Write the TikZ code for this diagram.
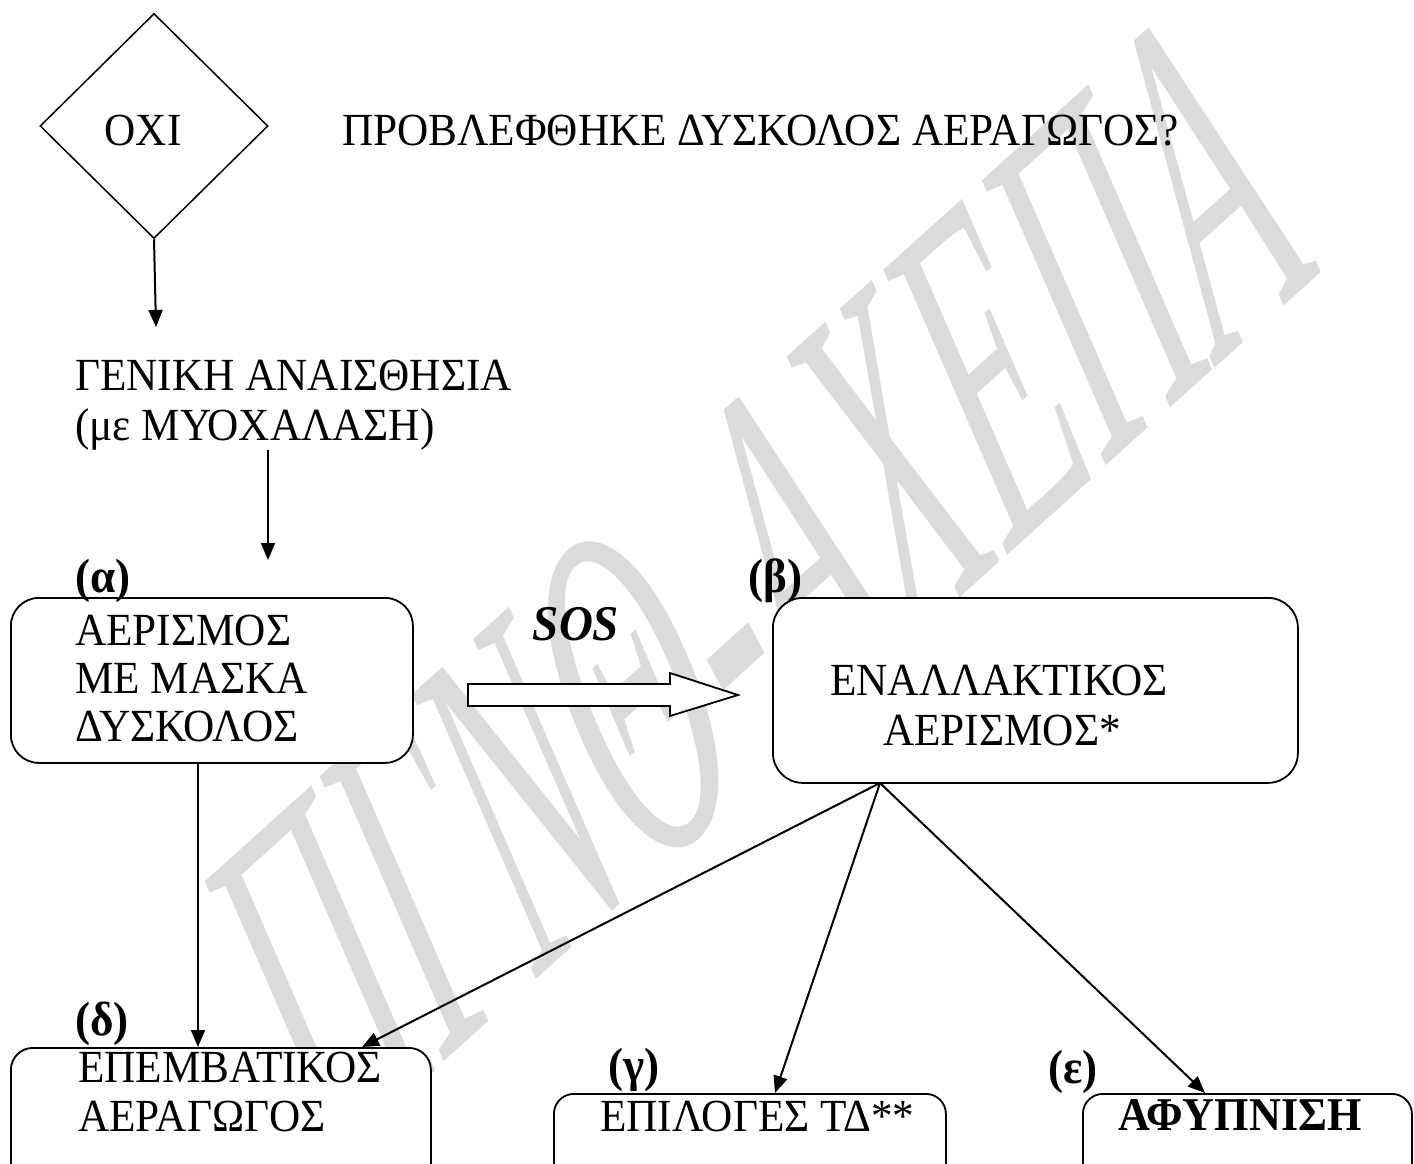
\documentclass[tikz,border=0pt]{standalone}
\usepackage{fontspec}
\setmainfont{Liberation Serif}[FakeStretch=0.94]
\newfontfamily\wmfont{Liberation Serif}
\usetikzlibrary{arrows.meta,shapes.geometric,calc}
\begin{document}
\begin{tikzpicture}[x=1pt,y=-1pt,
  txt/.style={inner sep=0pt, anchor=base west, font=\fontsize{46}{50}\selectfont},
  lbl/.style={inner sep=0pt, anchor=base west, font=\fontsize{48}{50}\selectfont\bfseries},
  box/.style={draw, fill=white, line width=1.8pt, anchor=north west, inner sep=0pt},
  conn/.style={line width=2pt, -{Triangle[length=17pt,width=14pt]}},
  wm/.style={text=black!14, inner sep=0pt, font=\fontsize{450}{450}\wmfont\itshape}]
\useasboundingbox (0,0) rectangle (1414,1164);
\clip (0,0) rectangle (1414,1164);
% watermark
\node[wm, rotate=42, xslant=0.25, xscale=0.48] (wmark) at (755,585) {ΠΓΝΘ-ΑΧΕΠΑ};
% decision
\node[draw, diamond, minimum width=228pt, minimum height=225pt, inner sep=0pt, line width=1.5pt] (dia) at (154,126) {};
\node[txt, anchor=base] (oxi) at (143,145) {ΟΧΙ};
\node[txt] (q) at (342,145) {ΠΡΟΒΛΕΦΘΗΚΕ ΔΥΣΚΟΛΟΣ ΑΕΡΑΓΩΓΟΣ?};
% general anaesthesia
\node[txt] (gen1) at (75,390) {ΓΕΝΙΚΗ ΑΝΑΙΣΘΗΣΙΑ};
\node[txt] (gen2) at (75,440) {(με ΜΥΟΧΑΛΑΣΗ)};
\coordinate (t1) at (156,327);
\coordinate (s2) at (268,450);
\coordinate (t2) at (268,560);
\draw[conn] (dia.south) -- (t1);
\draw[conn] (s2) -- (t2);
% box alpha
\node[box, rounded corners=28pt, minimum width=402pt, minimum height=165pt] (alpha) at (10,597) {};
\node[lbl] (la) at (75,592) {(α)};
\node[txt] (a1) at (75,645) {ΑΕΡΙΣΜΟΣ};
\node[txt] (a2) at (75,693) {ΜΕ ΜΑΣΚΑ};
\node[txt] (a3) at (75,741) {ΔΥΣΚΟΛΟΣ};
% SOS arrow
\node[inner sep=0pt, anchor=base, font=\fontsize{50}{50}\selectfont\bfseries\itshape] (sos) at (576,640) {SOS};
\draw[line width=1.8pt, fill=white] (468,684) -- (670,684) -- (670,673) -- (738,695) -- (670,716) -- (670,706) -- (468,706) -- cycle;
% box beta
\node[box, rounded corners=30pt, minimum width=525pt, minimum height=185pt] (beta) at (772,597) {};
\node[lbl] (lb) at (748,592) {(β)};
\node[txt] (b1) at (830,695) {ΕΝΑΛΛΑΚΤΙΚΟΣ};
\node[txt] (b2) at (883,745) {ΑΕΡΙΣΜΟΣ*};
\coordinate (fork) at (880,783);
% box delta
\node[box, rounded corners=22pt, minimum width=420pt, minimum height=200pt] (delta) at (10,1047) {};
\node[lbl] (ld) at (75,1035) {(δ)};
\node[txt] (d1) at (78,1082) {ΕΠΕΜΒΑΤΙΚΟΣ};
\node[txt] (d2) at (78,1131) {ΑΕΡΑΓΩΓΟΣ};
% box gamma
\node[box, rounded corners=20pt, minimum width=392pt, minimum height=150pt] (gamma) at (553,1093) {};
\node[lbl] (lg) at (608,1081) {(γ)};
\node[txt] (g1) at (600,1131) {ΕΠΙΛΟΓΕΣ ΤΔ**};
% box epsilon
\node[box, rounded corners=20pt, minimum width=329pt, minimum height=150pt] (eps) at (1082,1093) {};
\node[lbl] (le) at (1048,1083) {(ε)};
\node[lbl, font=\fontsize{47}{50}\selectfont\bfseries] (e1) at (1118,1130) {ΑΦΥΠΝΙΣΗ};
% connectors
\draw[conn] (198,0 |- alpha.south) -- (198,0 |- delta.north);
\draw[conn] (fork) -- (362,0 |- delta.north);
\draw[conn] (fork) -- (775,0 |- gamma.north);
\draw[conn] (fork) -- (1205,0 |- eps.north);
\end{tikzpicture}
\end{document}
